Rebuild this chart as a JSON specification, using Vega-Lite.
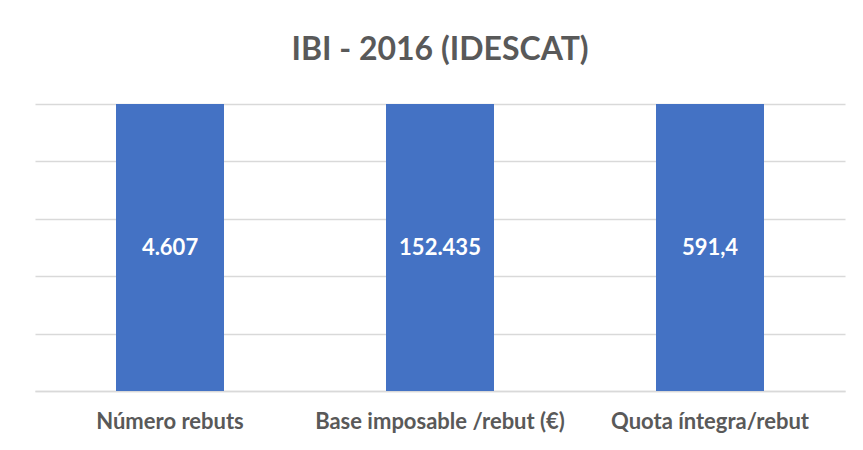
{
  "$schema": "https://vega.github.io/schema/vega-lite/v6.json",
  "autosize": {"type": "none"},
  "width": 810,
  "height": 287,
  "padding": {"left": 35, "top": 104, "right": 18, "bottom": 59},
  "background": "white",
  "title": {
    "text": "IBI - 2016 (IDESCAT)",
    "font": "Lato",
    "fontSize": 32,
    "fontWeight": "bold",
    "color": "#595959",
    "anchor": "middle",
    "offset": 37
  },
  "data": {
    "values": [
      {"categoria": "Número rebuts", "valor": 100, "etiqueta": "4.607"},
      {"categoria": "Base imposable /rebut (€)", "valor": 100, "etiqueta": "152.435"},
      {"categoria": "Quota íntegra/rebut", "valor": 100, "etiqueta": "591,4"}
    ]
  },
  "encoding": {
    "x": {
      "field": "categoria",
      "type": "nominal",
      "sort": null,
      "scale": {"paddingInner": 0.6, "paddingOuter": 0.3},
      "axis": {
        "title": null,
        "labelAngle": 0,
        "labelFont": "Lato",
        "labelFontSize": 22,
        "labelFontWeight": "bold",
        "labelColor": "#595959",
        "labelPadding": 20,
        "labelLimit": 0,
        "ticks": false,
        "domainColor": "#d9d9d9",
        "domainWidth": 1.5
      }
    }
  },
  "layer": [
    {
      "mark": {"type": "bar", "color": "#4472c4"},
      "encoding": {
        "y": {
          "field": "valor",
          "type": "quantitative",
          "scale": {"domain": [0, 100], "nice": false},
          "axis": {
            "title": null,
            "labels": false,
            "ticks": false,
            "domain": false,
            "values": [0, 20, 40, 60, 80, 100],
            "gridColor": "#d9d9d9",
            "gridWidth": 1.5
          }
        }
      }
    },
    {
      "mark": {"type": "text", "color": "white", "font": "Lato", "fontSize": 22, "fontWeight": "bold", "baseline": "middle"},
      "encoding": {
        "y": {"datum": 50, "type": "quantitative"},
        "text": {"field": "etiqueta", "type": "nominal"}
      }
    }
  ],
  "config": {"view": {"stroke": null}}
}
